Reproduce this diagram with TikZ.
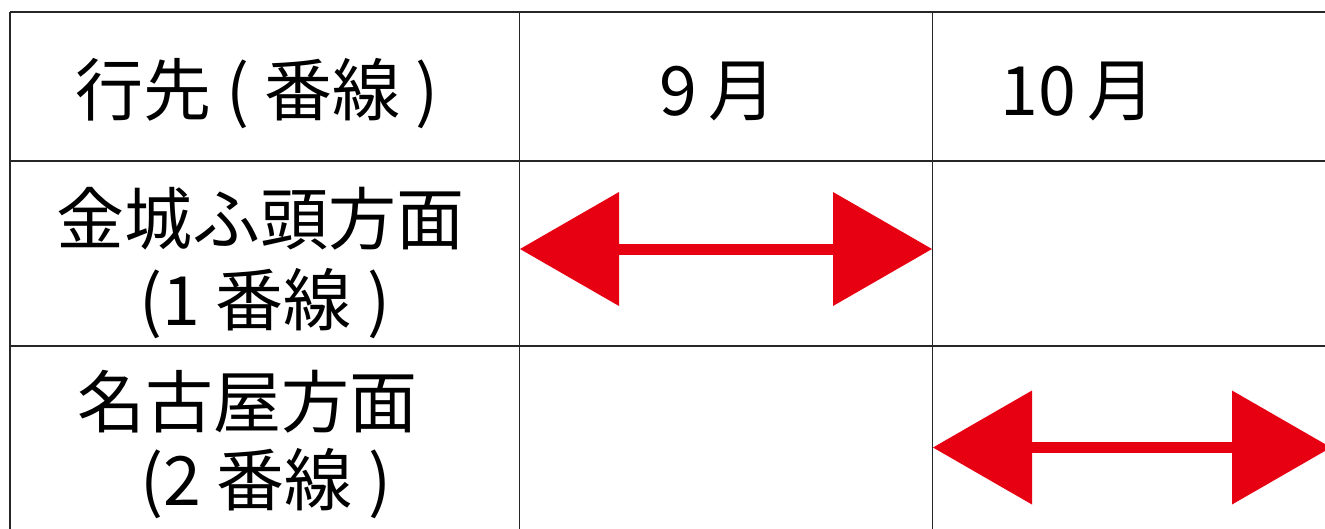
\documentclass[tikz,border=0pt]{standalone}
\usepackage{fontspec}
\newfontfamily\jpfont{Noto Sans CJK JP}
\usetikzlibrary{arrows.meta}
\definecolor{arrowred}{HTML}{E60012}

\begin{document}
\begin{tikzpicture}[x=1pt,y=-1pt,
	cell/.style={anchor=base,inner sep=0pt,font=\jpfont\fontsize{68}{80}\selectfont},
	rule/.style={line width=1.6pt,color=black!85},
	period/.style={arrowred,line width=11pt,
		{Triangle[length=99pt,width=114pt,line width=0pt]}-{Triangle[length=99pt,width=114pt,line width=0pt]}}]
	\useasboundingbox (0,0) rectangle (1325,528);
	\clip (0,0) rectangle (1325,528);
	\draw[rule] (10,12) -- (1330,12) (10,161) -- (1330,161) (10,346) -- (1330,346);
	\draw[rule] (10,12) -- (10,530) (519.5,12) -- (519.5,530) (932.5,12) -- (932.5,530);
	\node[cell] (head) at (257,115) {行先 ( 番線 )};
	\node[cell] (sep) at (718,115) {9\,月};
	\node[cell] (oct) at (1078,115) {10\,月};
	\node[cell] (kinjo) at (260,244) {金城ふ頭方面};
	\node[cell] (kinjoline) at (265,325) {(1 番線 )};
	\node[cell] (nagoya) at (247,427) {名古屋方面};
	\node[cell] (nagoyaline) at (266,505) {(2 番線 )};
	\coordinate (sepL) at (520,249);
	\coordinate (sepR) at (932,249);
	\coordinate (octL) at (933,447.5);
	\coordinate (octR) at (1331,447.5);
	\draw[period] (sepL) -- (sepR);
	\draw[period] (octL) -- (octR);
\end{tikzpicture}
\end{document}
